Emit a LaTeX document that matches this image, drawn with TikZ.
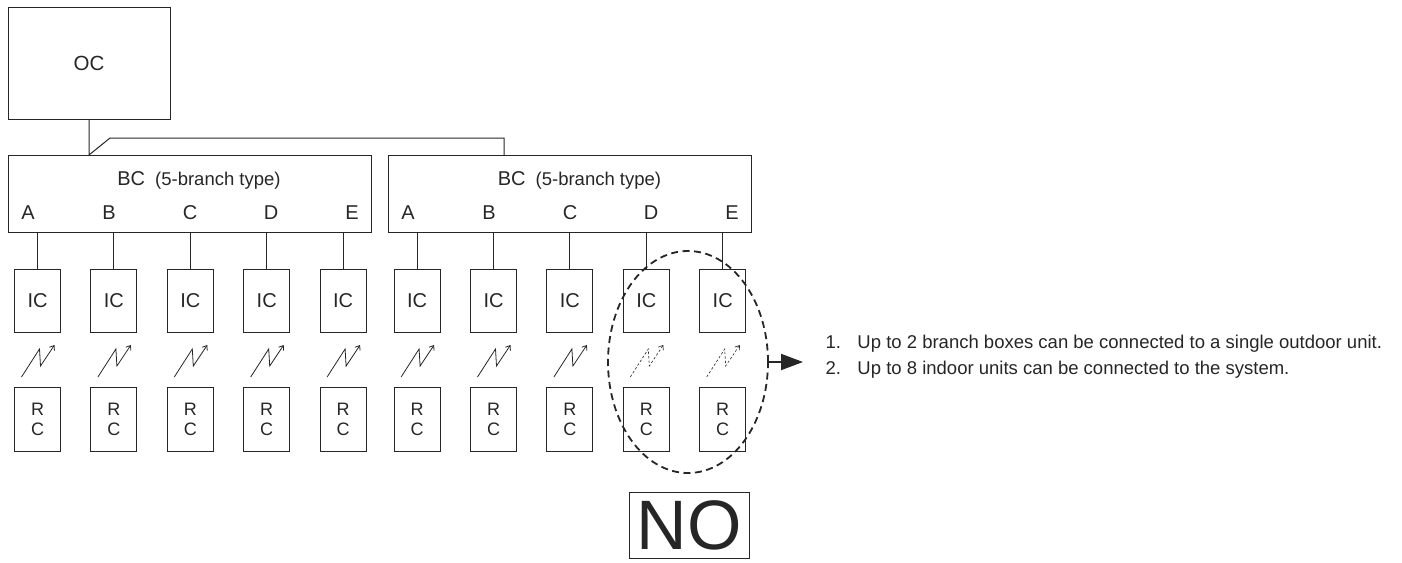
\documentclass[tikz,border=0pt]{standalone}
\usepackage{fontspec}
\setmainfont{Liberation Sans}
\usepackage{xcolor}
\usepackage{tikz}
\usetikzlibrary{positioning,arrows.meta,shapes.geometric}

\begin{document}
\begin{tikzpicture}[
  x=1pt, y=-1pt,
  color=black!85,
  line width=1pt,
  node distance=30.4pt,
  box/.style={draw, rectangle, inner sep=0pt, outer sep=0pt},
  oc/.style={box, minimum width=162pt, minimum height=112pt, font=\fontsize{20.5}{24}\selectfont},
  bc/.style={box, minimum width=363pt, minimum height=77pt},
  hd/.style={anchor=base, inner sep=0pt, font=\fontsize{20}{24}\selectfont},
  tag/.style={anchor=base, inner sep=0pt, font=\fontsize{20}{24}\selectfont},
  ic/.style={box, minimum width=46pt, minimum height=63pt, font=\fontsize{20}{24}\selectfont},
  rc/.style={box, minimum width=46pt, minimum height=64pt, align=center, font=\fontsize{18}{20}\selectfont},
  no/.style={box, minimum width=120pt, minimum height=66pt, font=\fontsize{70}{70}\selectfont},
  ring/.style={draw, ellipse, inner sep=0pt, minimum width=160pt, minimum height=222pt, line width=1.8pt, dash pattern=on 7pt off 4.5pt},
  note/.style={anchor=west, align=left, inner sep=0pt, font=\fontsize{18.5}{25.6}\selectfont},
  zap/.pic={\draw[line width=0.8pt, -{Straight Barb[length=4pt,width=6pt]}] (-16,45) -- (2,17) -- (3,34) -- (17,13);},
  zapoff/.pic={\draw[line width=0.6pt, dash pattern=on 2.5pt off 2pt, -{Straight Barb[length=4pt,width=6pt]}] (-16,45) -- (2,17) -- (3,34) -- (17,13);},
  arr/.style={-{Triangle[length=22pt,width=16pt]}, line width=2pt}
]
  \useasboundingbox (0,0) rectangle (1402,562);

  % outdoor unit and branch boxes
  \node[oc] (oc) at (89,63) {OC};
  \node[bc] (bc1) at (189.5,193.5) {};
  \node[bc] (bc2) at (570,193.5) {};
  \node[hd] (bc1t) at (199,185) {BC\hspace{10pt}{\fontsize{18.5}{22}\selectfont(5-branch type)}};
  \node[hd] (bc2t) at (579.5,185) {BC\hspace{10pt}{\fontsize{18.5}{22}\selectfont(5-branch type)}};
  \node[tag] (bc1a) at (28,219) {A};
  \node[tag] (bc1b) at (109,219) {B};
  \node[tag] (bc1c) at (190,219) {C};
  \node[tag] (bc1d) at (271,219) {D};
  \node[tag] (bc1e) at (352,219) {E};
  \node[tag] (bc2a) at (408,219) {A};
  \node[tag] (bc2b) at (489,219) {B};
  \node[tag] (bc2c) at (570,219) {C};
  \node[tag] (bc2d) at (651,219) {D};
  \node[tag] (bc2e) at (732,219) {E};

  % indoor units
  \node[ic] (ic1) at (37.5,300.5) {IC};
  \node[ic, right=of ic1] (ic2) {IC};
  \node[ic, right=of ic2] (ic3) {IC};
  \node[ic, right=of ic3] (ic4) {IC};
  \node[ic, right=of ic4] (ic5) {IC};
  \node[ic, right=28pt of ic5] (ic6) {IC};
  \node[ic, right=of ic6] (ic7) {IC};
  \node[ic, right=of ic7] (ic8) {IC};
  \node[ic, right=of ic8] (ic9) {IC};
  \node[ic, right=of ic9] (ic10) {IC};

  % remote controllers
  \node[rc, below=55pt of ic1] (rc1) {R\\C};
  \node[rc, below=55pt of ic2] (rc2) {R\\C};
  \node[rc, below=55pt of ic3] (rc3) {R\\C};
  \node[rc, below=55pt of ic4] (rc4) {R\\C};
  \node[rc, below=55pt of ic5] (rc5) {R\\C};
  \node[rc, below=55pt of ic6] (rc6) {R\\C};
  \node[rc, below=55pt of ic7] (rc7) {R\\C};
  \node[rc, below=55pt of ic8] (rc8) {R\\C};
  \node[rc, below=55pt of ic9] (rc9) {R\\C};
  \node[rc, below=55pt of ic10] (rc10) {R\\C};

  % piping
  \draw (oc) -- (oc |- bc1.north) -- ++(21,-17) -| ([xshift=-66pt]bc2.north);
  \draw (ic1) -- (ic1 |- bc1.south) (ic2) -- (ic2 |- bc1.south) (ic3) -- (ic3 |- bc1.south)
        (ic4) -- (ic4 |- bc1.south) (ic5) -- (ic5 |- bc1.south);
  \draw (ic6) -- (ic6 |- bc2.south) (ic7) -- (ic7 |- bc2.south) (ic8) -- (ic8 |- bc2.south)
        (ic9) -- (ic9 |- bc2.south) (ic10) -- (ic10 |- bc2.south);

  % wireless links
  \pic at (ic1.south) {zap};
  \pic at (ic2.south) {zap};
  \pic at (ic3.south) {zap};
  \pic at (ic4.south) {zap};
  \pic at (ic5.south) {zap};
  \pic at (ic6.south) {zap};
  \pic at (ic7.south) {zap};
  \pic at (ic8.south) {zap};
  \pic at (ic9.south) {zapoff};
  \pic at (ic10.south) {zapoff};

  % not allowed
  \node[ring] (ring) at (688,362) {};
  \node[no] (no) at (689,525) {NO};
  \node[note] (notes) at (825,357) {\makebox[32pt][l]{1.}Up to 2 branch boxes can be connected to a single outdoor unit.\\
    \makebox[32pt][l]{2.}Up to 8 indoor units can be connected to the system.};
  \coordinate (tip) at ([xshift=-22pt]notes.west);
  \draw[arr] (ring.east) -- (tip |- ring.east);
\end{tikzpicture}
\end{document}
